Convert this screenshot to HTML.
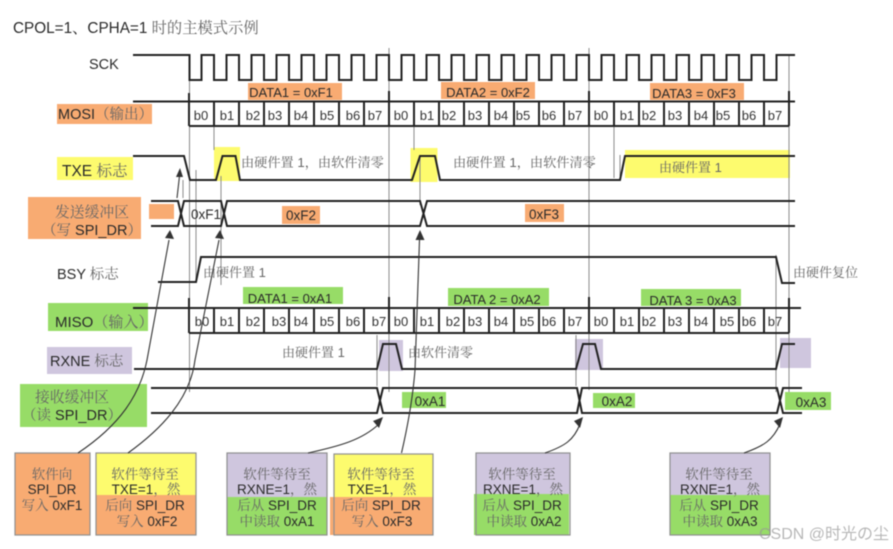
<!DOCTYPE html>
<html><head><meta charset="utf-8">
<style>
html,body{margin:0;padding:0;background:#fff;width:893px;height:549px;overflow:hidden}
svg{display:block;filter:blur(.45px)}
text{font-family:"Liberation Sans","Noto Serif CJK SC",sans-serif;font-size:13.5px;fill:#2a2a2a}
.c{fill:#666}
.m{text-anchor:middle}
.b{font-size:13px;text-anchor:middle;fill:#333}
.s{fill:none;stroke:#222;stroke-width:2}
.g{fill:none;stroke:#8a8a8a;stroke-width:1}
.a{fill:none;stroke:#333;stroke-width:1.1}
.h{fill:#333}
.box{fill:none;stroke:#8f8f8f;stroke-width:1.2}
</style></head><body>
<svg width="893" height="549" viewBox="0 0 893 549" xmlns="http://www.w3.org/2000/svg">
<rect width="893" height="549" fill="#fff"/>

<!-- colour bands -->
<g fill="#f8ab72">
<rect x="248" y="83" width="94" height="17"/><rect x="441" y="82" width="94" height="17"/><rect x="650" y="83" width="94" height="17"/>
<rect x="57" y="104" width="95" height="20"/>
<rect x="28" y="197" width="113" height="42"/><rect x="149" y="204" width="25" height="15"/>
<rect x="282" y="206" width="38" height="18"/><rect x="525" y="204" width="39" height="18"/>
</g>
<g fill="#fdfb6e">
<rect x="57" y="157" width="76" height="23"/><rect x="214" y="147" width="26" height="34"/>
<rect x="410.500" y="148" width="27" height="34"/><rect x="625" y="150" width="165" height="28"/>
</g>
<g fill="#97dc67">
<rect x="243" y="287" width="100" height="17"/><rect x="448" y="288" width="101" height="18"/><rect x="641" y="289" width="100" height="17"/>
<rect x="48" y="303" width="100" height="28"/><rect x="20" y="384" width="127" height="43"/>
<rect x="402" y="392" width="44" height="16"/><rect x="593" y="393" width="42" height="15"/><rect x="785" y="392" width="46" height="18"/>
</g>
<g fill="#cfc6de">
<rect x="47" y="347" width="85" height="27"/><rect x="379" y="340" width="24" height="31"/>
<rect x="575" y="339" width="28" height="31"/><rect x="780" y="338" width="31" height="30"/>
</g>

<!-- grey guides -->
<g class="g">
<path d="M189.500 80V392M214 126V150M221 176V285M196 170V282"/>
<path d="M389 48V392M414 126V150M420 155V205"/>
<path d="M589 48V390M614 126V178M620 155V176"/>
<path d="M789 55V392M776 255V392M377 335V386M576 335V386"/>
<path d="M183 180V198"/>
</g>

<!-- SCK -->
<path class="s" d="M133 55H189.500V80H201.500V55H214V80H226.500V55H239V80H251.500V55H264V80H276.500V55H289V80H301.500V55H314V80H326.500V55H339V80H351.500V55H364V80H376.500V55H389V80H401.500V55H414V80H426.500V55H439V80H451.500V55H464V80H476.500V55H489V80H501.500V55H514V80H526.500V55H539V80H551.500V55H564V80H576.500V55H589V80H601.500V55H614V80H626.500V55H639V80H651.500V55H664V80H676.500V55H689V80H701.500V55H714V80H726.500V55H739V80H751.500V55H764V80H776.500V55H795"/>

<!-- MOSI -->
<path class="s" d="M133 101.500H795M189 126H789M189 93V126M214 101.500V126M239 101.500V126M264 101.500V126M289 101.500V126M314 101.500V126M339 101.500V126M364 101.500V126M389 91V126M414 101.500V126M439 101.500V126M464 101.500V126M489 101.500V126M514 101.500V126M539 101.500V126M564 101.500V126M589 91V126M614 101.500V126M639 101.500V126M664 101.500V126M689 101.500V126M714 101.500V126M739 101.500V126M764 101.500V126M789 91V126"/>

<!-- TXE -->
<path class="s" d="M133 156H184L190 180H216L222.500 156H235.500L240 180H412L420 156H435L440 180H620L625 156H795"/>

<!-- TX buffer -->
<path class="s" d="M151 201H178L184 226H221L227 201H420L427 226H795M151 226H178L184 201H221L227 226H420L427 201H795"/>

<!-- BSY -->
<path class="s" d="M158 282H196L201 257H776L782 283H795"/>

<!-- MISO -->
<path class="s" d="M133 308H801M189 333H789M189 298V333M214 308V333M239 308V333M264 308V333M289 308V333M314 308V333M339 308V333M364 308V333M389 297V333M414 308V333M439 308V333M464 308V333M489 308V333M514 308V333M539 308V333M564 308V333M589 297V333M614 308V333M639 308V333M664 308V333M689 308V333M714 308V333M739 308V333M764 308V333M789 298V333"/>

<!-- RXNE -->
<path class="s" d="M134 369H377L383 344H396L402 369H576L583 344H595L601 369H776L782 344H795"/>

<!-- RX buffer -->
<path class="s" d="M151 388H377L383 413H577L582 388H777L783 413H802M151 413H377L383 388H577L582 413H777L783 388H802"/>

<!-- lower boxes -->
<rect x="15" y="453" width="75" height="82" fill="#f8ab72"/>
<rect x="96" y="453" width="100" height="42" fill="#fdfb6e"/><rect x="96" y="495" width="100" height="40" fill="#f8ab72"/>
<rect x="227" y="453" width="100" height="44" fill="#cfc6de"/><rect x="227" y="497" width="100" height="38" fill="#97dc67"/>
<rect x="334" y="454" width="99" height="43" fill="#fdfb6e"/><rect x="330" y="497" width="103" height="38" fill="#f8ab72"/>
<rect x="476" y="453" width="94" height="41" fill="#cfc6de"/><rect x="474" y="494" width="95" height="41" fill="#97dc67"/>
<rect x="670" y="453" width="100" height="42" fill="#cfc6de"/><rect x="670" y="495" width="100" height="40" fill="#97dc67"/>
<rect class="box" x="15" y="453" width="75" height="82"/>
<rect class="box" x="96" y="453" width="100" height="82"/>
<rect class="box" x="227" y="453" width="100" height="82"/>
<rect class="box" x="334" y="454" width="99" height="81"/>
<rect class="box" x="476" y="453" width="94" height="82"/>
<rect class="box" x="670" y="453" width="100" height="82"/>

<!-- arrows -->
<g class="a">
<path d="M78 453C120 425 140 395 147 360L169 240"/>
<path d="M128 453C160 430 190 400 195 360L219 240"/>
<path d="M308 453C340 446 362 440 379 424"/>
<path d="M401.500 453C408 425 413 395 415 370L419.500 240"/>
<path d="M545 453C565 446 574 440 580 424"/>
<path d="M744 453C764 446 773 440 780 424"/>
<path d="M177 198L179.500 176"/>
</g>
<g class="h">
<path d="M170 230L165 238L174 239Z"/>
<path d="M220 230L215 238L224 239Z"/>
<path d="M383 417L373 421L379 428Z"/>
<path d="M420 230L415.500 240L424.500 240Z"/>
<path d="M583 417L574 421L580 428Z"/>
<path d="M783 417L774 421L780 428Z"/>
<path d="M180 168L176 177L183 177Z"/>
</g>

<!-- title and labels -->
<text x="13" y="33" style="font-size:15.300px">CPOL=1、CPHA=1 <tspan class="c">时的主模式示例</tspan></text>
<text x="89" y="69" style="font-size:14.500px">SCK</text>
<text x="58" y="119" style="font-size:14.500px">MOSI<tspan class="c">（输出）</tspan></text>
<text x="62" y="176" style="font-size:15.500px">TXE <tspan class="c">标志</tspan></text>
<text x="92" y="217" class="m c" style="font-size:14.800px">发送缓冲区</text>
<text x="92" y="235" class="m" style="font-size:14.500px"><tspan class="c">（写</tspan> SPI_DR<tspan class="c">）</tspan></text>
<text x="57" y="279" style="font-size:14.500px">BSY <tspan class="c">标志</tspan></text>
<text x="55" y="327" style="font-size:15px">MISO<tspan class="c">（输入）</tspan></text>
<text x="50" y="366" style="font-size:14.500px">RXNE <tspan class="c">标志</tspan></text>
<text x="72" y="402" class="m c" style="font-size:14.800px">接收缓冲区</text>
<text x="72" y="420" class="m" style="font-size:14.500px"><tspan class="c">（读</tspan> SPI_DR<tspan class="c">）</tspan></text>

<text x="291" y="97" class="m" style="font-size:13px">DATA1 = 0xF1</text>
<text x="488" y="97" class="m" style="font-size:13px">DATA2 = 0xF2</text>
<text x="694" y="98" class="m" style="font-size:13px">DATA3 = 0xF3</text>
<text x="290" y="303" class="m" style="font-size:13px">DATA1 = 0xA1</text>
<text x="497" y="304" class="m" style="font-size:13px">DATA 2 = 0xA2</text>
<text x="693" y="305" class="m" style="font-size:13px">DATA 3 = 0xA3</text>

<text x="206" y="219" class="m">0xF1</text>
<text x="301" y="220" class="m">0xF2</text>
<text x="544" y="219" class="m">0xF3</text>
<text x="430" y="406" class="m">0xA1</text>
<text x="617" y="406" class="m">0xA2</text>
<text x="811" y="407" class="m">0xA3</text>

<text class="c" x="241" y="167" style="font-size:13.200px">由硬件置 1，由软件清零</text>
<text class="c" x="453" y="167" style="font-size:13.200px">由硬件置 1，由软件清零</text>
<text class="c" x="659" y="172" style="font-size:13px">由硬件置 1</text>
<text class="c" x="203" y="277" style="font-size:13px">由硬件置 1</text>
<text class="c" x="793" y="277" style="font-size:13px">由硬件复位</text>
<text class="c" x="282" y="357" style="font-size:13px">由硬件置 1</text>
<text class="c" x="408" y="357" style="font-size:13px">由软件清零</text>

<!-- bits MOSI -->
<text class="b" x="201" y="120">b0</text><text class="b" x="227" y="120">b1</text><text class="b" x="253" y="120">b2</text><text class="b" x="275" y="120">b3</text><text class="b" x="301" y="120">b4</text><text class="b" x="327" y="120">b5</text><text class="b" x="353" y="120">b6</text><text class="b" x="375" y="120">b7</text>
<text class="b" x="401" y="120">b0</text><text class="b" x="427" y="120">b1</text><text class="b" x="449" y="120">b2</text><text class="b" x="475" y="120">b3</text><text class="b" x="501" y="120">b4</text><text class="b" x="523" y="120">b5</text><text class="b" x="549" y="120">b6</text><text class="b" x="575" y="120">b7</text>
<text class="b" x="601" y="120">b0</text><text class="b" x="627" y="120">b1</text><text class="b" x="649" y="120">b2</text><text class="b" x="675" y="120">b3</text><text class="b" x="701" y="120">b4</text><text class="b" x="723" y="120">b5</text><text class="b" x="749" y="120">b6</text><text class="b" x="775" y="120">b7</text>
<!-- bits MISO -->
<text class="b" x="202" y="326">b0</text><text class="b" x="227" y="326">b1</text><text class="b" x="253" y="326">b2</text><text class="b" x="279" y="326">b3</text><text class="b" x="301" y="326">b4</text><text class="b" x="327" y="326">b5</text><text class="b" x="353" y="326">b6</text><text class="b" x="379" y="326">b7</text>
<text class="b" x="401" y="326">b0</text><text class="b" x="427" y="326">b1</text><text class="b" x="453" y="326">b2</text><text class="b" x="475" y="326">b3</text><text class="b" x="501" y="326">b4</text><text class="b" x="527" y="326">b5</text><text class="b" x="549" y="326">b6</text><text class="b" x="575" y="326">b7</text>
<text class="b" x="601" y="326">b0</text><text class="b" x="627" y="326">b1</text><text class="b" x="649" y="326">b2</text><text class="b" x="675" y="326">b3</text><text class="b" x="701" y="326">b4</text><text class="b" x="727" y="326">b5</text><text class="b" x="749" y="326">b6</text><text class="b" x="775" y="326">b7</text>

<!-- box text -->
<text x="52" y="479" class="m c">软件向</text>
<text x="52" y="494" class="m">SPI_DR</text>
<text x="52" y="510" class="m"><tspan class="c">写入</tspan> 0xF1</text>

<text x="145" y="479" class="m c">软件等待至</text>
<text x="146" y="494" class="m">TXE=1<tspan class="c">，然</tspan></text>
<text x="145" y="510" class="m"><tspan class="c">后向</tspan> SPI_DR</text>
<text x="147" y="526" class="m"><tspan class="c">写入</tspan> 0xF2</text>

<text x="277" y="479" class="m c">软件等待至</text>
<text x="277" y="494" class="m">RXNE=1<tspan class="c">，然</tspan></text>
<text x="277" y="510" class="m"><tspan class="c">后从</tspan> SPI_DR</text>
<text x="277" y="526" class="m"><tspan class="c">中读取</tspan> 0xA1</text>

<text x="381" y="479" class="m c">软件等待至</text>
<text x="382" y="494" class="m">TXE=1<tspan class="c">，然</tspan></text>
<text x="381" y="510" class="m"><tspan class="c">后向</tspan> SPI_DR</text>
<text x="382" y="526" class="m"><tspan class="c">写入</tspan> 0xF3</text>

<text x="522" y="479" class="m c">软件等待至</text>
<text x="523" y="494" class="m">RXNE=1<tspan class="c">，然</tspan></text>
<text x="522" y="510" class="m"><tspan class="c">后从</tspan> SPI_DR</text>
<text x="524" y="526" class="m"><tspan class="c">中读取</tspan> 0xA2</text>

<text x="719" y="479" class="m c">软件等待至</text>
<text x="720" y="494" class="m">RXNE=1<tspan class="c">，然</tspan></text>
<text x="719" y="510" class="m"><tspan class="c">后从</tspan> SPI_DR</text>
<text x="720" y="526" class="m"><tspan class="c">中读取</tspan> 0xA3</text>

<text x="759" y="539" style="font-size:16px;fill:#999;fill-opacity:.7;font-family:'Liberation Sans','Noto Sans CJK JP',sans-serif">CSDN @时光の尘</text>
</svg>
</body></html>
